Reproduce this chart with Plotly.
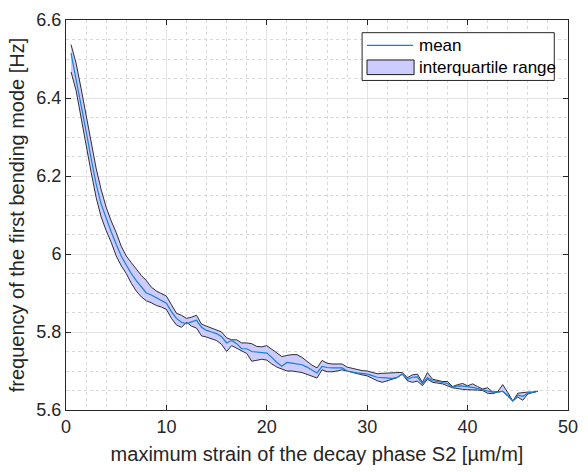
import plotly.graph_objects as go

# strain values (µm/m)
strain = [0.5, 1.0, 1.5, 2.0, 2.5, 3.0, 3.5, 4.0, 4.5, 5.0, 5.5, 6.0, 6.5, 7.0, 7.5, 8.0, 8.5, 9.0, 9.5, 10.0,
          10.5, 11.0, 11.5, 12.0, 12.5, 13.0, 13.5, 14.0, 14.5, 15.0, 15.5, 16.0, 16.5, 17.0, 17.5, 18.0, 18.5, 19.0, 19.5, 20.0,
          20.5, 21.0, 21.5, 22.0, 22.5, 23.0, 23.5, 24.0, 24.5, 25.0, 25.5, 26.0, 26.5, 27.0, 27.5, 28.0, 28.5, 29.0, 29.5, 30.0,
          30.5, 31.0, 31.5, 32.0, 32.5, 33.0, 33.5, 34.0, 34.5, 35.0, 35.5, 36.0, 36.5, 37.0, 37.5, 38.0, 38.5, 39.0, 39.5, 40.0,
          40.5, 41.0, 41.5, 42.0, 42.5, 43.0, 43.5, 44.0, 44.5, 45.0, 45.5, 46.0, 46.5, 47.0]

freq_mean = [6.515, 6.45, 6.385, 6.315, 6.245, 6.18, 6.128, 6.09, 6.057, 6.025, 5.995, 5.972, 5.95, 5.932, 5.915, 5.90, 5.895, 5.888, 5.88, 5.874,
             5.852, 5.835, 5.825, 5.821, 5.826, 5.83, 5.812, 5.804, 5.80, 5.796, 5.788, 5.772, 5.778, 5.77, 5.757, 5.757, 5.75, 5.749, 5.748, 5.746,
             5.735, 5.722, 5.7125, 5.722, 5.72, 5.718, 5.716, 5.71, 5.702, 5.695, 5.712, 5.709, 5.708, 5.708, 5.708, 5.70, 5.697, 5.695, 5.694, 5.692,
             5.688, 5.684, 5.683, 5.682, 5.681, 5.684, 5.692, 5.679, 5.684, 5.685, 5.667, 5.683, 5.675, 5.673, 5.670, 5.668, 5.658, 5.662, 5.661, 5.66,
             5.658, 5.655, 5.652, 5.649, 5.646, 5.646, 5.648, 5.638, 5.623, 5.638, 5.635, 5.643, 5.645, 5.648]

freq_q75 = [6.537, 6.49, 6.425, 6.355, 6.285, 6.22, 6.165, 6.12, 6.085, 6.055, 6.02, 5.995, 5.978, 5.96, 5.945, 5.932, 5.915, 5.905, 5.898, 5.892,
            5.87, 5.848, 5.843, 5.835, 5.838, 5.843, 5.82, 5.815, 5.81, 5.805, 5.80, 5.785, 5.78, 5.78, 5.772, 5.772, 5.77, 5.763, 5.762, 5.765,
            5.755, 5.745, 5.737, 5.74, 5.742, 5.742, 5.735, 5.725, 5.715, 5.708, 5.727, 5.72, 5.718, 5.718, 5.718, 5.71, 5.707, 5.703, 5.701, 5.70,
            5.697, 5.693, 5.694, 5.695, 5.695, 5.696, 5.696, 5.683, 5.69, 5.692, 5.671, 5.696, 5.679, 5.676, 5.673, 5.673, 5.66, 5.665, 5.668, 5.662,
            5.667, 5.66, 5.654, 5.657, 5.646, 5.647, 5.665, 5.645, 5.623, 5.643, 5.645, 5.646, 5.646, 5.648]

freq_q25 = [6.467, 6.42, 6.35, 6.28, 6.21, 6.145, 6.095, 6.06, 6.03, 5.995, 5.97, 5.95, 5.925, 5.905, 5.89, 5.88, 5.875, 5.868, 5.864, 5.858,
            5.835, 5.818, 5.812, 5.825, 5.815, 5.81, 5.79, 5.787, 5.783, 5.778, 5.768, 5.75, 5.765, 5.76, 5.752, 5.745, 5.725, 5.728, 5.73, 5.728,
            5.718, 5.71, 5.704, 5.70, 5.70, 5.698, 5.696, 5.692, 5.687, 5.682, 5.703, 5.698, 5.698, 5.70, 5.703, 5.70, 5.696, 5.693, 5.69, 5.6875,
            5.682, 5.675, 5.671, 5.676, 5.679, 5.683, 5.692, 5.675, 5.671, 5.674, 5.6625, 5.679, 5.671, 5.669, 5.667, 5.662, 5.657, 5.655, 5.653, 5.652,
            5.651, 5.651, 5.65, 5.643, 5.642, 5.646, 5.648, 5.635, 5.623, 5.633, 5.625, 5.641, 5.645, 5.648]

y_tick_vals = [5.6, 5.8, 6.0, 6.2, 6.4, 6.6]
y_tick_text = ["5.6", "5.8", "6", "6.2", "6.4", "6.6"]
x_tick_vals = [0, 10, 20, 30, 40, 50]
x_tick_text = ["0", "10", "20", "30", "40", "50"]
legend_labels = ["mean", "interquartile range"]

FONT = "Liberation Sans, Arial, sans-serif"
AX = "#262626"
MEAN_COLOR = "#1a7ed4"
FILL_COLOR = "#CCCCFF"
EDGE_COLOR = "#1a1a1a"

W, H = 588, 472
ML, MR, MT, MB = 66, 10, 10, 62
PW, PH = W - ML - MR, H - MT - MB


def px2paper(px, py):
    return (px - ML) / PW, 1 - (py - MT) / PH


fig = go.Figure()

fig.add_trace(go.Scatter(
    x=strain + strain[::-1],
    y=freq_q75 + freq_q25[::-1],
    fill="toself",
    fillcolor=FILL_COLOR,
    line=dict(color=EDGE_COLOR, width=0.9),
    mode="lines",
    name=legend_labels[1],
    hoverinfo="skip",
    showlegend=False,
))

fig.add_trace(go.Scatter(
    x=strain, y=freq_mean,
    mode="lines",
    line=dict(color=MEAN_COLOR, width=1.2),
    name=legend_labels[0],
    showlegend=False,
))

axis_common = dict(
    showline=True, linecolor=AX, linewidth=1, mirror="allticks",
    ticks="inside", ticklen=5, tickcolor=AX, tickwidth=1,
    showgrid=True, gridcolor="#e3e3e3", gridwidth=1,
    zeroline=False,
    tickfont=dict(family=FONT, size=18, color=AX),
)

fig.update_xaxes(
    **axis_common,
    range=[0, 50], tickvals=x_tick_vals, ticktext=x_tick_text,
    minor=dict(dtick=2, showgrid=True, griddash="dot", gridcolor="#d9d9d9", gridwidth=1, ticks=""),
    title=dict(text="maximum strain of the decay phase S2 [µm/m]",
               font=dict(family=FONT, size=20, color=AX), standoff=11),
)
fig.update_yaxes(
    **axis_common,
    range=[5.6, 6.6], tickvals=y_tick_vals, ticktext=y_tick_text,
    minor=dict(dtick=0.05, showgrid=True, griddash="dot", gridcolor="#d9d9d9", gridwidth=1, ticks=""),
    title=dict(text="frequency of the first bending mode [Hz]",
               font=dict(family=FONT, size=20, color=AX), standoff=6),
)

# custom legend (box, line sample, patch sample, labels) in paper coords
bx0, by0 = px2paper(368, 23)
bx1, by1 = px2paper(564, 72)
shapes = [
    dict(type="rect", xref="paper", yref="paper", x0=bx0, y0=by1, x1=bx1, y1=by0,
         fillcolor="white", line=dict(color=AX, width=1), layer="above"),
]
lx0, ly = px2paper(373, 36)
lx1, _ = px2paper(420, 36)
shapes.append(dict(type="line", xref="paper", yref="paper", x0=lx0, y0=ly, x1=lx1, y1=ly,
                   line=dict(color=MEAN_COLOR, width=1.2), layer="above"))
rx0, ry0 = px2paper(373, 51)
rx1, ry1 = px2paper(421, 66)
shapes.append(dict(type="rect", xref="paper", yref="paper", x0=rx0, y0=ry1, x1=rx1, y1=ry0,
                   fillcolor=FILL_COLOR, line=dict(color=EDGE_COLOR, width=1), layer="above"))

annotations = []
for label, cy in zip(legend_labels, [36, 59]):
    tx, ty = px2paper(424, cy)
    annotations.append(dict(xref="paper", yref="paper", x=tx, y=ty, text=label,
                            showarrow=False, xanchor="left", yanchor="middle",
                            font=dict(family=FONT, size=17, color="black")))

fig.update_layout(
    width=W, height=H,
    margin=dict(l=ML, r=MR, t=MT, b=MB),
    plot_bgcolor="white", paper_bgcolor="white",
    showlegend=False,
    shapes=shapes,
    annotations=annotations,
)

fig.write_html("out.html")
